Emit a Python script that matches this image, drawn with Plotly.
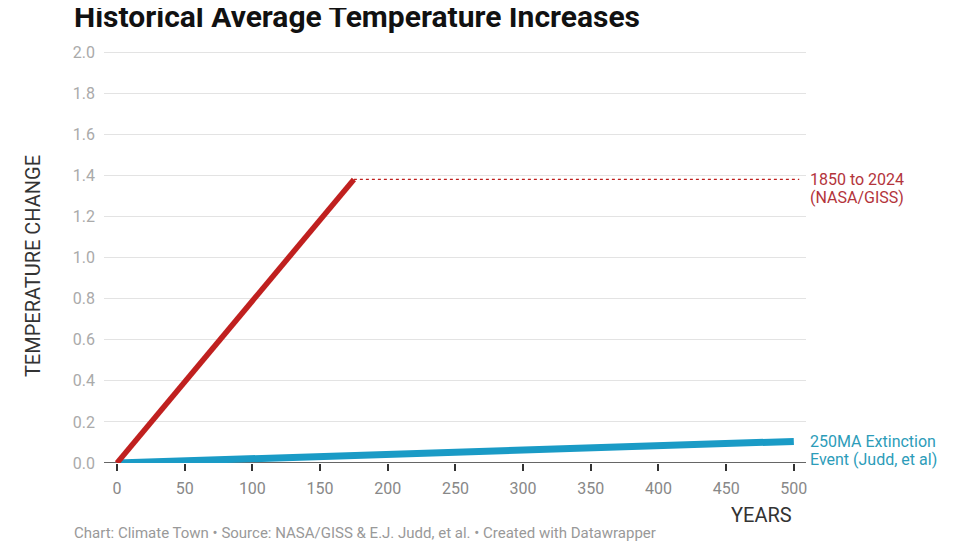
import plotly.graph_objects as go

# Data
nasa_years = [0, 175]
nasa_temp = [0.0, 1.38]
judd_years = [0, 500]
judd_temp = [0.0, 0.105]
ref_years = [175, 504]
ref_temp = [1.38, 1.38]
x_ticks = [0, 50, 100, 150, 200, 250, 300, 350, 400, 450, 500]
y_ticks = [0.0, 0.2, 0.4, 0.6, 0.8, 1.0, 1.2, 1.4, 1.6, 1.8, 2.0]

RED = "#c0201f"
BLUE = "#1a9bc6"
FONT = "Roboto"

fig = go.Figure()
fig.add_trace(go.Scatter(x=ref_years, y=ref_temp, mode="lines",
                         line=dict(color=RED, width=1.2, dash="dot"),
                         hoverinfo="skip", cliponaxis=False))
fig.add_trace(go.Scatter(x=judd_years, y=judd_temp, mode="lines",
                         line=dict(color=BLUE, width=7),
                         cliponaxis=False))
fig.add_trace(go.Scatter(x=nasa_years, y=nasa_temp, mode="lines",
                         line=dict(color=RED, width=5.5),
                         cliponaxis=False))

fig.update_layout(
    width=960, height=545,
    margin=dict(l=96, r=162, t=43, b=90),
    paper_bgcolor="white", plot_bgcolor="white",
    showlegend=False,
    font=dict(family=FONT, color="#888"),
    xaxis=dict(range=[-9.6, 509], tickvals=x_ticks, showgrid=False,
               zeroline=False, showline=False,
               ticks="outside", ticklen=7, tickcolor="#333", tickwidth=1.5,
               ticklabelstandoff=4,
               tickfont=dict(size=16, color="#888"), fixedrange=True),
    yaxis=dict(range=[0, 2.005], tickvals=y_ticks, tickformat=".1f",
               showgrid=True, gridcolor="#e3e3e3", gridwidth=1,
               zeroline=False, showline=False, ticks="",
               ticklabelstandoff=8,
               tickfont=dict(size=16, color="#aaa"), fixedrange=True),
)

# Baseline axis at zero
fig.add_shape(type="line", xref="paper", yref="y", x0=0, x1=1, y0=0, y1=0,
              line=dict(color="#333", width=1.5), layer="below")


def note(text, x, y, size, color, xanchor="left", angle=0, bold=False):
    fig.add_annotation(text=f"<b>{text}</b>" if bold else text,
                       xref="paper", yref="paper", x=x, y=y,
                       xanchor=xanchor, yanchor="middle", showarrow=False,
                       textangle=angle, align="left",
                       font=dict(family=FONT, size=size, color=color))


note("Historical Average Temperature Increases", -0.0456, 1.084, 30, "#111", bold=True)
note("1850 to 2024", 1.0028, 0.6869, 16, "#b3343b")
note("(NASA/GISS)", 1.0028, 0.6456, 16, "#b3343b")
note("250MA Extinction", 1.0028, 0.0522, 16, "#2c9cb9")
note("Event (Judd, et al)", 1.0028, 0.0073, 16, "#2c9cb9")
note("TEMPERATURE CHANGE", -0.1011, 0.478, 20, "#333", xanchor="center", angle=-90)
note("YEARS", 0.9359, -0.1262, 20, "#333", xanchor="center")
note("Chart: Climate Town • Source: NASA/GISS & E.J. Judd, et al. • Created with Datawrapper",
     -0.0456, -0.1699, 15, "#999")

fig.write_html("out.html")
